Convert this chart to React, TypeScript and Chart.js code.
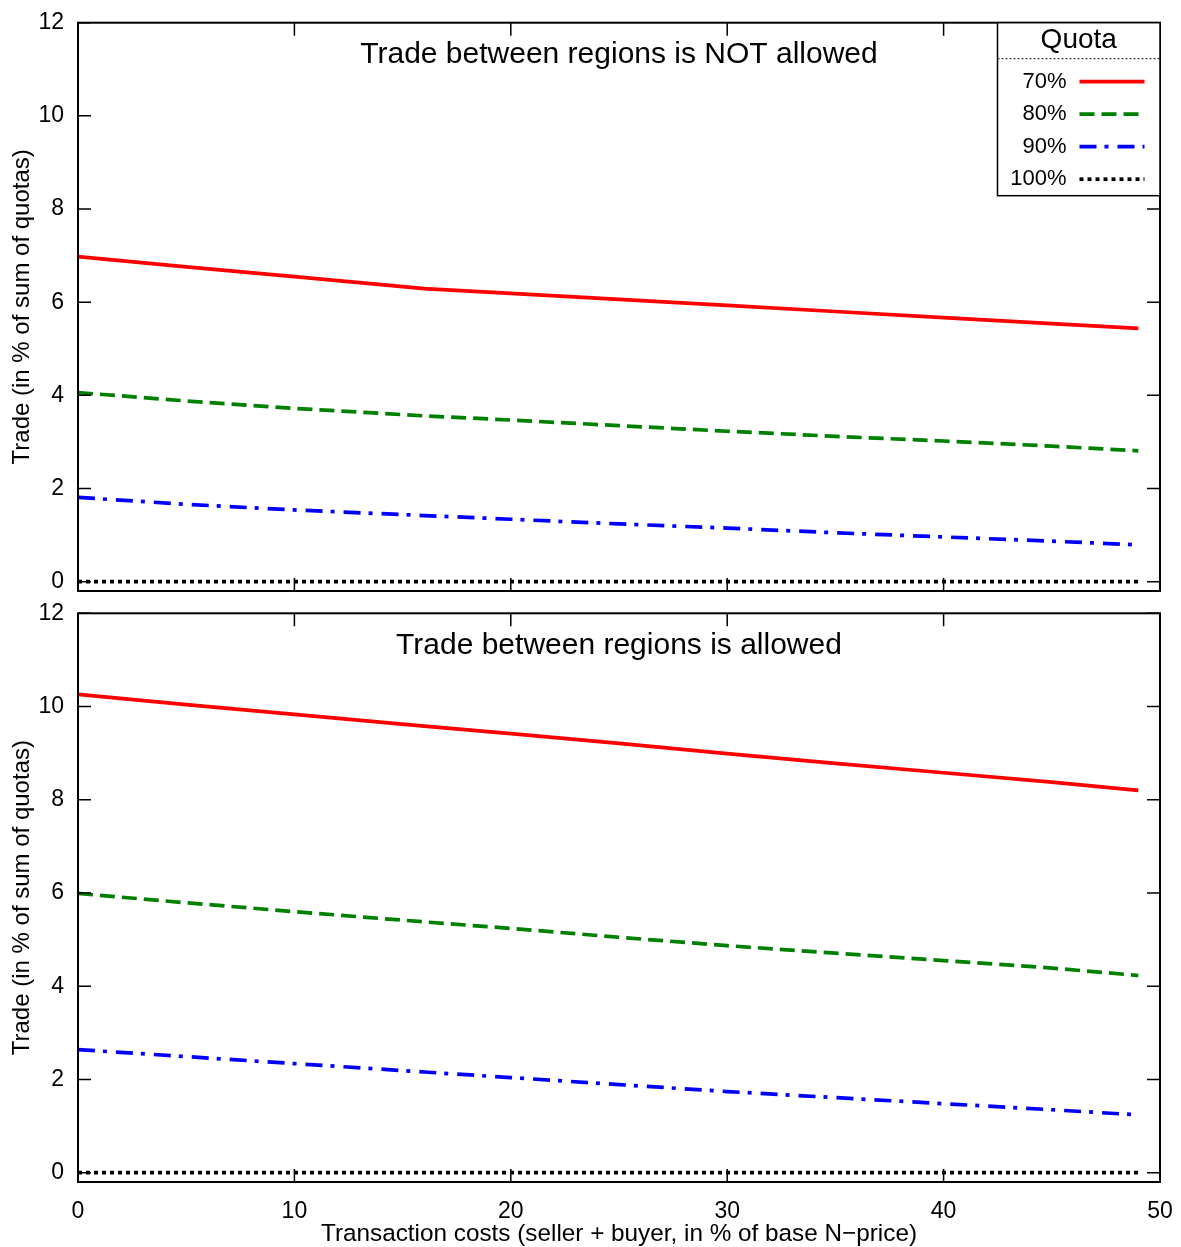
import React, { useEffect, useRef } from "react";
import { Chart, registerables } from "chart.js";
Chart.register(...registerables);

// ---- data ----
const xCosts = [0, 5, 10, 16, 20, 25, 30, 35, 40, 45, 49];
// Panel 1: trade between regions NOT allowed
const noTrade70 = [6.98, 6.76, 6.55, 6.29, 6.19, 6.06, 5.93, 5.8, 5.67, 5.54, 5.44];
const noTrade80 = [4.06, 3.88, 3.72, 3.56, 3.47, 3.35, 3.23, 3.12, 3.02, 2.91, 2.81];
const noTrade90 = [1.81, 1.66, 1.54, 1.42, 1.34, 1.24, 1.15, 1.05, 0.96, 0.87, 0.79];
const noTrade100 = [0, 0, 0, 0, 0, 0, 0, 0, 0, 0, 0];
// Panel 2: trade between regions allowed
const trade70 = [10.26, 10.04, 9.83, 9.58, 9.42, 9.21, 8.99, 8.78, 8.58, 8.38, 8.2];
const trade80 = [5.99, 5.79, 5.6, 5.38, 5.24, 5.05, 4.87, 4.71, 4.55, 4.39, 4.23];
const trade90 = [2.64, 2.49, 2.34, 2.16, 2.04, 1.89, 1.74, 1.61, 1.48, 1.35, 1.24];
const trade100 = [0, 0, 0, 0, 0, 0, 0, 0, 0, 0, 0];

const quotaLabels = ["70%", "80%", "90%", "100%"];
const yTickValues = [0, 2, 4, 6, 8, 10, 12];
const xTickValues = [0, 10, 20, 30, 40, 50];
const panelTitles = ["Trade between regions is NOT allowed", "Trade between regions is allowed"];
const yAxisTitle = "Trade (in % of sum of quotas)";
const xAxisTitle = "Transaction costs (seller + buyer, in % of base N\u2212price)";
const legendTitle = "Quota";

// ---- styles ----
const seriesColors = ["#ff0000", "#008000", "#0000ff", "#000000"];
const seriesDashes: number[][] = [[], [15, 7], [17, 8, 4, 9], [4, 4]];
const FONT = '"Liberation Sans", Arial, sans-serif';

function makeDatasets(series: number[][]) {
  return series.map((vals, i) => ({
    label: quotaLabels[i],
    data: vals.map((y, k) => ({ x: xCosts[k], y })),
    borderColor: seriesColors[i],
    backgroundColor: seriesColors[i],
    borderWidth: 3.7,
    borderDash: seriesDashes[i],
    borderCapStyle: "butt" as const,
    pointRadius: 0,
    tension: 0,
    fill: false,
  }));
}

function framePlugin(title: string, withLegend: boolean) {
  return {
    id: "frameDeco",
    afterDatasetsDraw(chart: any) {
      const { ctx, chartArea, scales } = chart;
      const { left, right, top, bottom } = chartArea;
      ctx.save();
      // inward ticks
      ctx.strokeStyle = "#000";
      ctx.lineWidth = 1.5;
      ctx.setLineDash([]);
      const tl = 13;
      ctx.beginPath();
      yTickValues.forEach((v) => {
        const y = scales.y.getPixelForValue(v);
        ctx.moveTo(left, y);
        ctx.lineTo(left + tl, y);
        ctx.moveTo(right, y);
        ctx.lineTo(right - tl, y);
      });
      xTickValues.forEach((v) => {
        const x = scales.x.getPixelForValue(v);
        ctx.moveTo(x, top);
        ctx.lineTo(x, top + tl);
        ctx.moveTo(x, bottom);
        ctx.lineTo(x, bottom - tl);
      });
      ctx.stroke();
      // frame
      ctx.lineWidth = 2;
      ctx.strokeRect(left, top, right - left, bottom - top);
      // panel title
      ctx.fillStyle = "#000";
      ctx.font = `30px ${FONT}`;
      ctx.textAlign = "center";
      ctx.textBaseline = "middle";
      ctx.fillText(title, (left + right) / 2, top + 32);

      if (withLegend) {
        const lw = 162.5;
        const lh = 173;
        const lx = right - lw;
        const ly = top;
        ctx.fillStyle = "#fff";
        ctx.fillRect(lx, ly, lw, lh);
        ctx.strokeStyle = "#000";
        ctx.lineWidth = 1.5;
        ctx.strokeRect(lx, ly, lw, lh);
        ctx.fillStyle = "#000";
        ctx.font = `28px ${FONT}`;
        ctx.textAlign = "center";
        ctx.fillText(legendTitle, lx + lw / 2, ly + 17.5);
        // dotted separator
        ctx.lineWidth = 1;
        ctx.setLineDash([2, 2]);
        ctx.beginPath();
        ctx.moveTo(lx, ly + 36);
        ctx.lineTo(right, ly + 36);
        ctx.stroke();
        quotaLabels.forEach((lab, i) => {
          const cy = ly + 59 + i * 32.5;
          ctx.fillStyle = "#000";
          ctx.font = `22px ${FONT}`;
          ctx.textAlign = "right";
          ctx.fillText(lab, lx + 69, cy);
          ctx.strokeStyle = seriesColors[i];
          ctx.lineWidth = 3.7;
          ctx.lineCap = "butt";
          ctx.setLineDash(seriesDashes[i]);
          ctx.beginPath();
          ctx.moveTo(lx + 82, cy);
          ctx.lineTo(lx + 147, cy);
          ctx.stroke();
        });
        ctx.setLineDash([]);
      }
      ctx.restore();
    },
  };
}

function Panel(props: {
  series: number[][];
  title: string;
  withLegend: boolean;
  showX: boolean;
  width: number;
  height: number;
  padTop: number;
  padBottom: number;
  style: React.CSSProperties;
}) {
  const ref = useRef<HTMLCanvasElement | null>(null);
  useEffect(() => {
    if (!ref.current) return;
    const chart = new Chart(ref.current, {
      type: "line",
      data: { datasets: makeDatasets(props.series) as any },
      options: {
        animation: false,
        responsive: false,
        devicePixelRatio: 1,
        layout: { padding: { top: props.padTop, bottom: props.padBottom, left: 0, right: 21 } },
        plugins: { legend: { display: false }, tooltip: { enabled: false }, title: { display: false } },
        scales: {
          x: {
            type: "linear",
            min: 0,
            max: 50,
            display: props.showX,
            grid: { display: false, drawTicks: false },
            border: { display: false },
            afterBuildTicks: (s: any) => {
              s.ticks = xTickValues.map((v) => ({ value: v }));
            },
            afterFit: (s: any) => {
              s.height = props.showX ? 65 : 0;
              s.paddingLeft = 0;
              s.paddingRight = 0;
              s.paddingTop = 0;
              s.paddingBottom = 0;
            },
            ticks: {
              color: "#000",
              font: { family: FONT, size: 23 },
              padding: 16,
              maxRotation: 0,
              autoSkip: false,
            },
            title: {
              display: true,
              text: xAxisTitle,
              color: "#000",
              font: { family: FONT, size: 24.3, lineHeight: 1 },
              padding: { top: 0, bottom: 0.5 },
            },
          },
          y: {
            type: "linear",
            min: -0.2,
            max: 12,
            grid: { display: false, drawTicks: false },
            border: { display: false },
            afterBuildTicks: (s: any) => {
              s.ticks = yTickValues.map((v) => ({ value: v }));
            },
            afterFit: (s: any) => {
              s.width = 78;
              s.paddingLeft = 0;
              s.paddingRight = 0;
              s.paddingTop = 0;
              s.paddingBottom = 0;
            },
            ticks: {
              color: "#000",
              font: { family: FONT, size: 23 },
              padding: 14,
            },
            title: {
              display: true,
              text: yAxisTitle,
              color: "#000",
              font: { family: FONT, size: 24, lineHeight: 1 },
              padding: { top: 10, bottom: 0 },
            },
          },
        },
      },
      plugins: [framePlugin(props.title, props.withLegend)],
    });
    return () => chart.destroy();
  }, []);
  return <canvas ref={ref} width={props.width} height={props.height} style={props.style} />;
}

export default function App() {
  return (
    <div style={{ position: "absolute", left: 0, top: 0, width: 1181, height: 1247, background: "#fff" }}>
      <Panel
        series={[noTrade70, noTrade80, noTrade90, noTrade100]}
        title={panelTitles[0]}
        withLegend={true}
        showX={false}
        width={1181}
        height={600}
        padTop={22.7}
        padBottom={9}
        style={{ position: "absolute", left: 0, top: 0, width: 1181, height: 600 }}
      />
      <Panel
        series={[trade70, trade80, trade90, trade100]}
        title={panelTitles[1]}
        withLegend={false}
        showX={true}
        width={1181}
        height={647}
        padTop={13.3}
        padBottom={0}
        style={{ position: "absolute", left: 0, top: 600, width: 1181, height: 647 }}
      />
    </div>
  );
}
